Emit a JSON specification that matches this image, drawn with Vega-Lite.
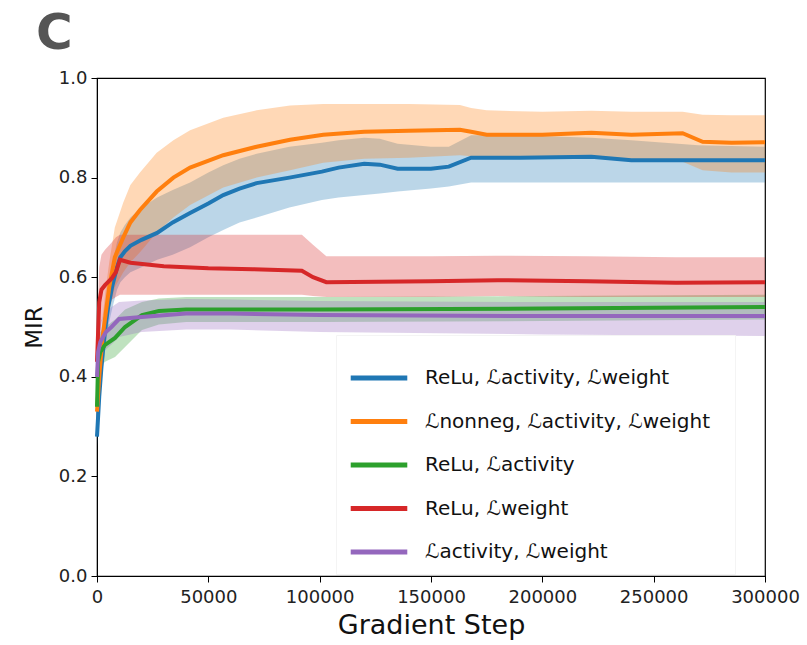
{
  "$schema": "https://vega.github.io/schema/vega-lite/v6.json",
  "width": 668,
  "height": 498,
  "autosize": "none",
  "padding": {"left": 97, "top": 78, "right": 42, "bottom": 69},
  "background": "white",
  "title": {"text": "C", "fontSize": 50, "fontWeight": "bold", "color": "#555555", "anchor": "start", "frame": "group", "dx": -61, "offset": 10, "font": "DejaVu Sans"},
  "config": {
    "font": "DejaVu Sans",
    "view": {"stroke": "#000000", "strokeWidth": 1.2},
    "axis": {"grid": false, "domainColor": "#000000", "tickColor": "#000000", "tickSize": 6, "labelFontSize": 18, "labelColor": "#222222", "titleColor": "#111111", "titleFontWeight": "normal", "labelFont": "DejaVu Sans", "titleFont": "DejaVu Sans"}
  },
  "data": {"values": [
    {"s": "ReLu,  ℒactivity,  ℒweight", "step": 0, "m": 0.28, "lo": 0.26, "hi": 0.30},
    {"s": "ReLu,  ℒactivity,  ℒweight", "step": 1000, "m": 0.36, "lo": 0.33, "hi": 0.39},
    {"s": "ReLu,  ℒactivity,  ℒweight", "step": 2000, "m": 0.42, "lo": 0.39, "hi": 0.46},
    {"s": "ReLu,  ℒactivity,  ℒweight", "step": 3500, "m": 0.49, "lo": 0.45, "hi": 0.53},
    {"s": "ReLu,  ℒactivity,  ℒweight", "step": 5000, "m": 0.54, "lo": 0.50, "hi": 0.58},
    {"s": "ReLu,  ℒactivity,  ℒweight", "step": 7000, "m": 0.585, "lo": 0.54, "hi": 0.63},
    {"s": "ReLu,  ℒactivity,  ℒweight", "step": 9000, "m": 0.62, "lo": 0.575, "hi": 0.67},
    {"s": "ReLu,  ℒactivity,  ℒweight", "step": 10500, "m": 0.64, "lo": 0.59, "hi": 0.69},
    {"s": "ReLu,  ℒactivity,  ℒweight", "step": 12500, "m": 0.652, "lo": 0.60, "hi": 0.705},
    {"s": "ReLu,  ℒactivity,  ℒweight", "step": 15000, "m": 0.663, "lo": 0.61, "hi": 0.72},
    {"s": "ReLu,  ℒactivity,  ℒweight", "step": 20000, "m": 0.675, "lo": 0.62, "hi": 0.74},
    {"s": "ReLu,  ℒactivity,  ℒweight", "step": 27000, "m": 0.689, "lo": 0.635, "hi": 0.76},
    {"s": "ReLu,  ℒactivity,  ℒweight", "step": 34000, "m": 0.71, "lo": 0.645, "hi": 0.775},
    {"s": "ReLu,  ℒactivity,  ℒweight", "step": 41800, "m": 0.729, "lo": 0.66, "hi": 0.79},
    {"s": "ReLu,  ℒactivity,  ℒweight", "step": 50000, "m": 0.748, "lo": 0.68, "hi": 0.81},
    {"s": "ReLu,  ℒactivity,  ℒweight", "step": 56700, "m": 0.765, "lo": 0.695, "hi": 0.825},
    {"s": "ReLu,  ℒactivity,  ℒweight", "step": 64000, "m": 0.778, "lo": 0.71, "hi": 0.838},
    {"s": "ReLu,  ℒactivity,  ℒweight", "step": 71700, "m": 0.789, "lo": 0.72, "hi": 0.848},
    {"s": "ReLu,  ℒactivity,  ℒweight", "step": 86400, "m": 0.80, "lo": 0.74, "hi": 0.862},
    {"s": "ReLu,  ℒactivity,  ℒweight", "step": 101000, "m": 0.812, "lo": 0.755, "hi": 0.87},
    {"s": "ReLu,  ℒactivity,  ℒweight", "step": 108500, "m": 0.82, "lo": 0.76, "hi": 0.875},
    {"s": "ReLu,  ℒactivity,  ℒweight", "step": 120000, "m": 0.828, "lo": 0.765, "hi": 0.88},
    {"s": "ReLu,  ℒactivity,  ℒweight", "step": 127000, "m": 0.826, "lo": 0.768, "hi": 0.878},
    {"s": "ReLu,  ℒactivity,  ℒweight", "step": 135000, "m": 0.818, "lo": 0.772, "hi": 0.868},
    {"s": "ReLu,  ℒactivity,  ℒweight", "step": 150000, "m": 0.818, "lo": 0.778, "hi": 0.862},
    {"s": "ReLu,  ℒactivity,  ℒweight", "step": 158000, "m": 0.822, "lo": 0.782, "hi": 0.862},
    {"s": "ReLu,  ℒactivity,  ℒweight", "step": 168000, "m": 0.84, "lo": 0.79, "hi": 0.885},
    {"s": "ReLu,  ℒactivity,  ℒweight", "step": 190000, "m": 0.84, "lo": 0.79, "hi": 0.885},
    {"s": "ReLu,  ℒactivity,  ℒweight", "step": 222000, "m": 0.842, "lo": 0.79, "hi": 0.88},
    {"s": "ReLu,  ℒactivity,  ℒweight", "step": 240000, "m": 0.835, "lo": 0.79, "hi": 0.875},
    {"s": "ReLu,  ℒactivity,  ℒweight", "step": 270000, "m": 0.835, "lo": 0.79, "hi": 0.865},
    {"s": "ReLu,  ℒactivity,  ℒweight", "step": 300000, "m": 0.835, "lo": 0.79, "hi": 0.862},

    {"s": "ℒnonneg,  ℒactivity,  ℒweight", "step": 0, "m": 0.33, "lo": 0.31, "hi": 0.35},
    {"s": "ℒnonneg,  ℒactivity,  ℒweight", "step": 1000, "m": 0.40, "lo": 0.37, "hi": 0.43},
    {"s": "ℒnonneg,  ℒactivity,  ℒweight", "step": 2500, "m": 0.48, "lo": 0.44, "hi": 0.52},
    {"s": "ℒnonneg,  ℒactivity,  ℒweight", "step": 4000, "m": 0.53, "lo": 0.49, "hi": 0.58},
    {"s": "ℒnonneg,  ℒactivity,  ℒweight", "step": 5500, "m": 0.58, "lo": 0.53, "hi": 0.63},
    {"s": "ℒnonneg,  ℒactivity,  ℒweight", "step": 8000, "m": 0.64, "lo": 0.58, "hi": 0.70},
    {"s": "ℒnonneg,  ℒactivity,  ℒweight", "step": 11800, "m": 0.68, "lo": 0.61, "hi": 0.75},
    {"s": "ℒnonneg,  ℒactivity,  ℒweight", "step": 15000, "m": 0.71, "lo": 0.63, "hi": 0.785},
    {"s": "ℒnonneg,  ℒactivity,  ℒweight", "step": 19300, "m": 0.735, "lo": 0.65, "hi": 0.81},
    {"s": "ℒnonneg,  ℒactivity,  ℒweight", "step": 26800, "m": 0.772, "lo": 0.69, "hi": 0.85},
    {"s": "ℒnonneg,  ℒactivity,  ℒweight", "step": 34300, "m": 0.80, "lo": 0.72, "hi": 0.875},
    {"s": "ℒnonneg,  ℒactivity,  ℒweight", "step": 41800, "m": 0.82, "lo": 0.745, "hi": 0.895},
    {"s": "ℒnonneg,  ℒactivity,  ℒweight", "step": 56700, "m": 0.845, "lo": 0.78, "hi": 0.92},
    {"s": "ℒnonneg,  ℒactivity,  ℒweight", "step": 71700, "m": 0.862, "lo": 0.80, "hi": 0.935},
    {"s": "ℒnonneg,  ℒactivity,  ℒweight", "step": 86700, "m": 0.876, "lo": 0.815, "hi": 0.945},
    {"s": "ℒnonneg,  ℒactivity,  ℒweight", "step": 101600, "m": 0.886, "lo": 0.83, "hi": 0.948},
    {"s": "ℒnonneg,  ℒactivity,  ℒweight", "step": 120000, "m": 0.892, "lo": 0.838, "hi": 0.948},
    {"s": "ℒnonneg,  ℒactivity,  ℒweight", "step": 140000, "m": 0.894, "lo": 0.84, "hi": 0.948},
    {"s": "ℒnonneg,  ℒactivity,  ℒweight", "step": 163000, "m": 0.896, "lo": 0.845, "hi": 0.946},
    {"s": "ℒnonneg,  ℒactivity,  ℒweight", "step": 168000, "m": 0.892, "lo": 0.843, "hi": 0.94},
    {"s": "ℒnonneg,  ℒactivity,  ℒweight", "step": 175000, "m": 0.886, "lo": 0.84, "hi": 0.935},
    {"s": "ℒnonneg,  ℒactivity,  ℒweight", "step": 200000, "m": 0.886, "lo": 0.838, "hi": 0.932},
    {"s": "ℒnonneg,  ℒactivity,  ℒweight", "step": 222000, "m": 0.89, "lo": 0.838, "hi": 0.934},
    {"s": "ℒnonneg,  ℒactivity,  ℒweight", "step": 240000, "m": 0.886, "lo": 0.836, "hi": 0.932},
    {"s": "ℒnonneg,  ℒactivity,  ℒweight", "step": 263000, "m": 0.889, "lo": 0.832, "hi": 0.932},
    {"s": "ℒnonneg,  ℒactivity,  ℒweight", "step": 272000, "m": 0.872, "lo": 0.815, "hi": 0.926},
    {"s": "ℒnonneg,  ℒactivity,  ℒweight", "step": 285000, "m": 0.87, "lo": 0.81, "hi": 0.925},
    {"s": "ℒnonneg,  ℒactivity,  ℒweight", "step": 300000, "m": 0.871, "lo": 0.81, "hi": 0.925},

    {"s": "ReLu,  ℒactivity", "step": 0, "m": 0.34, "lo": 0.32, "hi": 0.36},
    {"s": "ReLu,  ℒactivity", "step": 500, "m": 0.43, "lo": 0.40, "hi": 0.46},
    {"s": "ReLu,  ℒactivity", "step": 1500, "m": 0.45, "lo": 0.42, "hi": 0.49},
    {"s": "ReLu,  ℒactivity", "step": 3600, "m": 0.464, "lo": 0.43, "hi": 0.50},
    {"s": "ReLu,  ℒactivity", "step": 8100, "m": 0.478, "lo": 0.44, "hi": 0.515},
    {"s": "ReLu,  ℒactivity", "step": 12600, "m": 0.50, "lo": 0.46, "hi": 0.535},
    {"s": "ReLu,  ℒactivity", "step": 20200, "m": 0.524, "lo": 0.494, "hi": 0.55},
    {"s": "ReLu,  ℒactivity", "step": 27800, "m": 0.532, "lo": 0.505, "hi": 0.557},
    {"s": "ReLu,  ℒactivity", "step": 40000, "m": 0.535, "lo": 0.51, "hi": 0.56},
    {"s": "ReLu,  ℒactivity", "step": 100000, "m": 0.535, "lo": 0.51, "hi": 0.56},
    {"s": "ReLu,  ℒactivity", "step": 200000, "m": 0.537, "lo": 0.512, "hi": 0.562},
    {"s": "ReLu,  ℒactivity", "step": 300000, "m": 0.54, "lo": 0.515, "hi": 0.565},

    {"s": "ReLu,  ℒweight", "step": 0, "m": 0.43, "lo": 0.40, "hi": 0.47},
    {"s": "ReLu,  ℒweight", "step": 500, "m": 0.49, "lo": 0.44, "hi": 0.56},
    {"s": "ReLu,  ℒweight", "step": 1000, "m": 0.55, "lo": 0.48, "hi": 0.62},
    {"s": "ReLu,  ℒweight", "step": 2000, "m": 0.575, "lo": 0.51, "hi": 0.645},
    {"s": "ReLu,  ℒweight", "step": 3600, "m": 0.584, "lo": 0.53, "hi": 0.655},
    {"s": "ReLu,  ℒweight", "step": 6700, "m": 0.598, "lo": 0.555, "hi": 0.67},
    {"s": "ReLu,  ℒweight", "step": 8500, "m": 0.61, "lo": 0.56, "hi": 0.68},
    {"s": "ReLu,  ℒweight", "step": 10300, "m": 0.635, "lo": 0.565, "hi": 0.685},
    {"s": "ReLu,  ℒweight", "step": 15000, "m": 0.629, "lo": 0.565, "hi": 0.685},
    {"s": "ReLu,  ℒweight", "step": 30000, "m": 0.622, "lo": 0.565, "hi": 0.685},
    {"s": "ReLu,  ℒweight", "step": 50000, "m": 0.618, "lo": 0.565, "hi": 0.685},
    {"s": "ReLu,  ℒweight", "step": 70000, "m": 0.616, "lo": 0.565, "hi": 0.685},
    {"s": "ReLu,  ℒweight", "step": 92000, "m": 0.613, "lo": 0.565, "hi": 0.685},
    {"s": "ReLu,  ℒweight", "step": 97000, "m": 0.60, "lo": 0.562, "hi": 0.665},
    {"s": "ReLu,  ℒweight", "step": 103000, "m": 0.59, "lo": 0.56, "hi": 0.642},
    {"s": "ReLu,  ℒweight", "step": 150000, "m": 0.592, "lo": 0.56, "hi": 0.642},
    {"s": "ReLu,  ℒweight", "step": 180000, "m": 0.594, "lo": 0.562, "hi": 0.643},
    {"s": "ReLu,  ℒweight", "step": 220000, "m": 0.592, "lo": 0.56, "hi": 0.642},
    {"s": "ReLu,  ℒweight", "step": 260000, "m": 0.589, "lo": 0.56, "hi": 0.64},
    {"s": "ReLu,  ℒweight", "step": 300000, "m": 0.59, "lo": 0.56, "hi": 0.64},

    {"s": "ℒactivity,  ℒweight", "step": 0, "m": 0.40, "lo": 0.38, "hi": 0.42},
    {"s": "ℒactivity,  ℒweight", "step": 500, "m": 0.45, "lo": 0.42, "hi": 0.48},
    {"s": "ℒactivity,  ℒweight", "step": 1500, "m": 0.47, "lo": 0.44, "hi": 0.51},
    {"s": "ℒactivity,  ℒweight", "step": 4000, "m": 0.49, "lo": 0.455, "hi": 0.53},
    {"s": "ℒactivity,  ℒweight", "step": 6500, "m": 0.50, "lo": 0.465, "hi": 0.54},
    {"s": "ℒactivity,  ℒweight", "step": 9900, "m": 0.516, "lo": 0.48, "hi": 0.55},
    {"s": "ℒactivity,  ℒweight", "step": 20000, "m": 0.52, "lo": 0.49, "hi": 0.553},
    {"s": "ℒactivity,  ℒweight", "step": 40000, "m": 0.527, "lo": 0.495, "hi": 0.556},
    {"s": "ℒactivity,  ℒweight", "step": 60000, "m": 0.527, "lo": 0.495, "hi": 0.555},
    {"s": "ℒactivity,  ℒweight", "step": 100000, "m": 0.524, "lo": 0.49, "hi": 0.552},
    {"s": "ℒactivity,  ℒweight", "step": 200000, "m": 0.522, "lo": 0.485, "hi": 0.55},
    {"s": "ℒactivity,  ℒweight", "step": 300000, "m": 0.522, "lo": 0.482, "hi": 0.55}
  ]},
  "encoding": {
    "x": {"field": "step", "type": "quantitative", "scale": {"domain": [0, 300000], "nice": false},
      "axis": {"values": [0, 50000, 100000, 150000, 200000, 250000, 300000], "format": "d", "title": "Gradient Step", "titleFontSize": 27, "titlePadding": 6, "labelPadding": 6, "labelFlush": false}},
    "y": {"field": "m", "type": "quantitative", "scale": {"domain": [0, 1], "nice": false},
      "axis": {"values": [0, 0.2, 0.4, 0.6, 0.8, 1.0], "format": ".1f", "title": "MIR", "titleFontSize": 23, "titlePadding": 12, "labelPadding": 4}},
    "color": {"field": "s", "type": "nominal",
      "scale": {"domain": ["ReLu,  ℒactivity,  ℒweight", "ℒnonneg,  ℒactivity,  ℒweight", "ReLu,  ℒactivity", "ReLu,  ℒweight", "ℒactivity,  ℒweight"],
                "range": ["#1f77b4", "#ff7f0e", "#2ca02c", "#d62728", "#9467bd"]},
      "legend": {"title": null, "orient": "none", "legendX": 239, "legendY": 257, "symbolType": "stroke", "symbolSize": 3200, "symbolStrokeWidth": 5, "symbolOpacity": 1, "labelFontSize": 20, "labelColor": "#111111", "labelOffset": 15, "rowPadding": 2.5, "padding": 12, "strokeColor": "#f4f4f4", "fillColor": "transparent", "labelLimit": 400}}
  },
  "layer": [
    {"mark": {"type": "area", "opacity": 0.3, "interpolate": "linear"},
     "encoding": {"y": {"field": "lo", "type": "quantitative"}, "y2": {"field": "hi"}}},
    {"mark": {"type": "line", "strokeWidth": 4, "interpolate": "linear"}, "encoding": {}}
  ]
}
